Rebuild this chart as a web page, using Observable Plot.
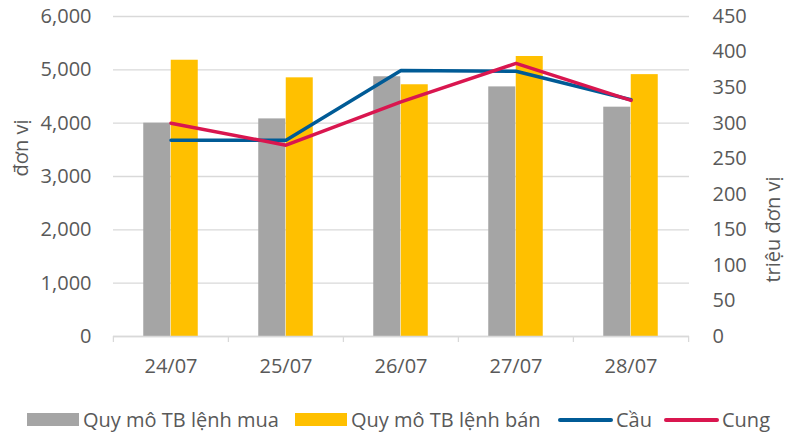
<!DOCTYPE html>
<html>
<head>
<meta charset="utf-8">
<script src="https://cdn.jsdelivr.net/npm/d3@7"></script>
<script src="https://cdn.jsdelivr.net/npm/@observablehq/plot@0.6"></script>
<style>
  body { margin: 0; background: white; font-family: "Open Sans", sans-serif; overflow: hidden; }
  #wrap { width: 794px; height: 436px; position: relative; }
  #legend { position: relative; width: 794px; height: 41px; font-size: 20px; color: #595959; }
  .item { position: absolute; top: 4px; height: 41px; display: flex; align-items: center; white-space: nowrap; }
  .sw { display: inline-block; width: 52px; height: 13px; margin-right: 4px; }
  .ln { display: inline-block; width: 55px; height: 4px; border-radius: 2px; margin-right: 3px; }
</style>
</head>
<body>
<div id="wrap"><div id="chart"></div><div id="legend"></div></div>
<script>
const dates = ["24/07", "25/07", "26/07", "27/07", "28/07"];
const muaValues = [4000, 4080, 4870, 4680, 4300];   // Quy mô TB lệnh mua (đơn vị)
const banValues = [5180, 4850, 4720, 5250, 4910];   // Quy mô TB lệnh bán (đơn vị)
const cauValues = [276, 276, 374, 373, 333];        // Cầu (triệu đơn vị)
const cungValues = [300, 269, 330, 384, 332];       // Cung (triệu đơn vị)
const leftTicks = [0, 1000, 2000, 3000, 4000, 5000, 6000];
const rightTicks = [0, 50, 100, 150, 200, 250, 300, 350, 400, 450];

const colors = { mua: "#a5a5a5", ban: "#ffc000", cau: "#005b96", cung: "#d9164f" };
const labels = { mua: "Quy mô TB lệnh mua", ban: "Quy mô TB lệnh bán", cau: "Cầu", cung: "Cung" };

const k = 6000 / 450; // right-axis → left-axis units
const W = 794, H = 395, mL = 113, mR = 105, mT = 16, mB = 59;
const step = (W - mL - mR) / dates.length;
const pInner = 0.7613;
const bw = step * (1 - pInner);

const rows = dates.map((d, i) => ({ date: d, mua: muaValues[i], ban: banValues[i], cau: cauValues[i], cung: cungValues[i] }));

const chart = Plot.plot({
  width: W, height: H,
  marginTop: mT, marginBottom: mB, marginLeft: mL, marginRight: mR,
  style: { fontFamily: "Open Sans", fontSize: "20px", color: "#595959", background: "white" },
  x: { type: "band", domain: dates, paddingInner: pInner, paddingOuter: pInner / 2 },
  y: { domain: [0, 6000] },
  marks: [
    Plot.ruleY(leftTicks, { stroke: "#d9d9d9", strokeWidth: 1.3 }),
    Plot.axisY({ anchor: "left", ticks: leftTicks, tickSize: 0, tickPadding: 22, tickFormat: d3.format(","), label: null }),
    Plot.axisY({ anchor: "right", ticks: rightTicks.map(v => v * k), tickSize: 0, tickPadding: 23, tickFormat: d => String(Math.round(d / k)), label: null }),
    Plot.axisX({ tickSize: 0, tickPadding: 22, label: null }),
    Plot.axisX({ tickSize: 6, tickFormat: () => "", dx: -step / 2, stroke: "#d9d9d9", strokeWidth: 1.3, label: null }),
    Plot.axisX({ ticks: [dates[dates.length - 1]], tickSize: 6, tickFormat: () => "", dx: step / 2, stroke: "#d9d9d9", strokeWidth: 1.3, label: null }),
    Plot.barY(rows, { x: "date", y: "mua", fill: colors.mua, dx: -bw / 2 }),
    Plot.barY(rows, { x: "date", y: "ban", fill: colors.ban, dx: bw / 2 }),
    Plot.ruleY([0], { stroke: "#d9d9d9", strokeWidth: 1.3 }),
    Plot.lineY(rows, { x: "date", y: d => d.cau * k, stroke: colors.cau, strokeWidth: 3.5, strokeLinecap: "round", strokeLinejoin: "round" }),
    Plot.lineY(rows, { x: "date", y: d => d.cung * k, stroke: colors.cung, strokeWidth: 3.5, strokeLinecap: "round", strokeLinejoin: "round" }),
    Plot.text(["đơn vị"], { frameAnchor: "left", rotate: -90, dx: -92, fontSize: 20, fill: "#595959" }),
    Plot.text(["triệu đơn vị"], { frameAnchor: "right", rotate: -90, dx: 84, fontSize: 20, fill: "#595959" })
  ]
});
document.getElementById("chart").appendChild(chart);

const legend = document.getElementById("legend");
const items = [
  { key: "mua", type: "sw", left: 27 },
  { key: "ban", type: "sw", left: 295 },
  { key: "cau", type: "ln", left: 558 },
  { key: "cung", type: "ln", left: 664 }
];
for (const it of items) {
  const div = document.createElement("div");
  div.className = "item";
  div.style.left = it.left + "px";
  const s = document.createElement("span");
  s.className = it.type;
  s.style.background = colors[it.key];
  div.appendChild(s);
  const t = document.createElement("span");
  t.textContent = labels[it.key];
  div.appendChild(t);
  legend.appendChild(div);
}
</script>
</body>
</html>
